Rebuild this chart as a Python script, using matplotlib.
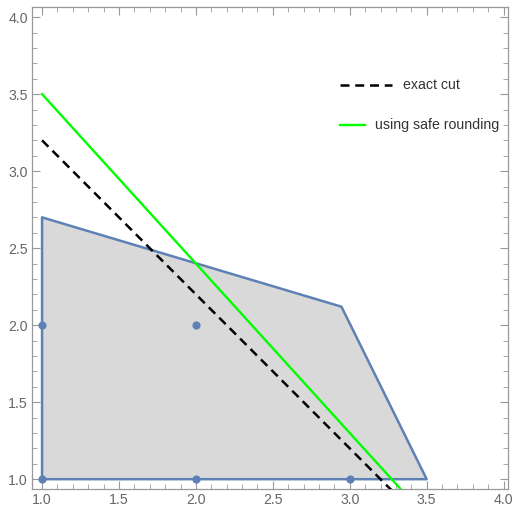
import matplotlib.pyplot as plt
from matplotlib.ticker import MultipleLocator

plt.rcParams['font.family'] = ['Liberation Sans', 'DejaVu Sans']

# region of feasible points (polygon vertices)
poly_x = [1.0, 1.0, 2.946, 3.5]
poly_y = [1.0, 2.7, 2.12, 1.0]

# integer points
pts_x = [1, 1, 2, 2, 3]
pts_y = [1, 2, 1, 2, 1]

# cuts
exact_x = [1.0, 3.35]
exact_y = [3.2, 0.85]
safe_x = [1.0, 3.4]
safe_y = [3.5, 0.86]

labels = ['exact cut', 'using safe rounding']

blue = '#5E81B5'
gray = '#999999'

fig = plt.figure(figsize=(5.17, 5.08), dpi=100)
ax = fig.add_axes([0.062, 0.037, 0.921, 0.949])

ax.fill(poly_x, poly_y, facecolor='#d9d9d9', edgecolor=blue, linewidth=1.8,
        joinstyle='round', zorder=1)
ax.scatter(pts_x, pts_y, s=24, color=blue, zorder=3, clip_on=False)
dash = (0, (3.6, 2.3))
ax.plot(exact_x, exact_y, color='black', linestyle=dash, linewidth=1.8, zorder=4)
ax.plot(safe_x, safe_y, color='#00ff00', linewidth=1.7, zorder=4)

# legend drawn by hand (keys of different length, as in the original)
ax.plot([0.647, 0.756], [0.838, 0.838], transform=ax.transAxes,
        color='black', linestyle=dash, linewidth=1.8)
ax.text(0.779, 0.838, labels[0], transform=ax.transAxes, va='center',
        fontsize=10.2, color='#333333')
ax.plot([0.647, 0.700], [0.756, 0.756], transform=ax.transAxes,
        color='#00ff00', linewidth=1.7)
ax.text(0.721, 0.756, labels[1], transform=ax.transAxes, va='center',
        fontsize=10.2, color='#333333')

ax.set_xlim(0.935, 4.03)
ax.set_ylim(0.935, 4.065)

for ax_ in [ax.xaxis, ax.yaxis]:
    ax_.set_major_locator(MultipleLocator(0.5))
    ax_.set_minor_locator(MultipleLocator(0.1))
ax.xaxis.set_major_formatter(lambda v, p: f'{v:.1f}')
ax.yaxis.set_major_formatter(lambda v, p: f'{v:.1f}')

ax.tick_params(which='both', direction='in', top=True, right=True,
               color=gray, labelcolor='#666666', labelsize=10.2)
ax.tick_params(which='major', length=6, width=0.8)
ax.tick_params(which='minor', length=3.5, width=0.6)
ax.tick_params(axis='x', pad=2.5)
ax.tick_params(axis='y', pad=3)
for s in ax.spines.values():
    s.set_color(gray)
    s.set_linewidth(0.9)

fig.savefig('out.png', dpi=100)
